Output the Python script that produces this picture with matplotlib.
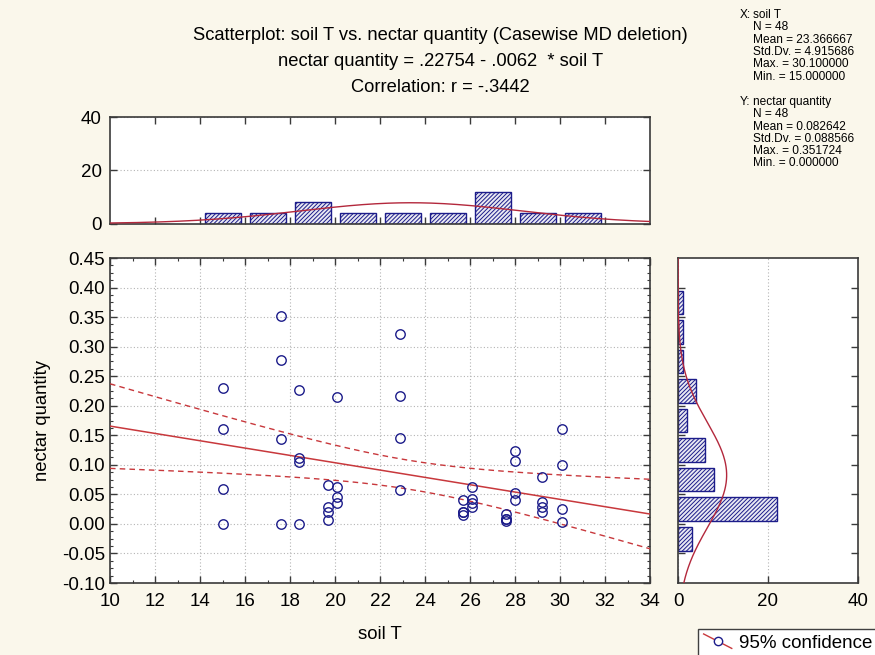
import numpy as np
import matplotlib
matplotlib.use("Agg")
import matplotlib.pyplot as plt
from matplotlib.lines import Line2D
from matplotlib.legend_handler import HandlerBase
from matplotlib.ticker import MultipleLocator, AutoMinorLocator, FormatStrFormatter

# ---- data -------------------------------------------------------------
soil_t = [15.0, 15.0, 15.0, 15.0,
          17.6, 17.6, 17.6, 17.6,
          18.4, 18.4, 18.4, 18.4,
          19.7, 19.7, 19.7, 19.7,
          20.1, 20.1, 20.1, 20.1,
          22.9, 22.9, 22.9, 22.9,
          25.7, 25.7, 25.7, 25.7,
          26.1, 26.1, 26.1, 26.1,
          27.6, 27.6, 27.6, 27.6,
          28.0, 28.0, 28.0, 28.0,
          29.2, 29.2, 29.2, 29.2,
          30.1, 30.1, 30.1, 30.1]

nectar = [0.230, 0.161, 0.059, 0.000,
          0.351724, 0.278, 0.143, 0.000,
          0.227, 0.112, 0.105, 0.000,
          0.066, 0.028, 0.020, 0.006,
          0.214, 0.062, 0.045, 0.036,
          0.321, 0.217, 0.145, 0.057,
          0.041, 0.021, 0.021, 0.015,
          0.063, 0.042, 0.035, 0.029,
          0.017, 0.009, 0.009, 0.005,
          0.124, 0.106, 0.052, 0.041,
          0.080, 0.037, 0.029, 0.020,
          0.160, 0.099, 0.025, 0.004]

# fitted line and summary statistics
intercept = 0.22754
slope = -0.0062
r_value = -0.3442
x_mean, x_sd = 23.366667, 4.915686
y_mean, y_sd = 0.082642, 0.088566
t_crit = 2.0129  # t(0.975, df = 46)

x_stats = ["N = 48", "Mean = 23.366667", "Std.Dv. = 4.915686",
           "Max. = 30.100000", "Min. = 15.000000"]
y_stats = ["N = 48", "Mean = 0.082642", "Std.Dv. = 0.088566",
           "Max. = 0.351724", "Min. = 0.000000"]

x_ticks = list(range(10, 35, 2))
y_ticks = [-0.10, -0.05, 0.00, 0.05, 0.10, 0.15, 0.20, 0.25, 0.30, 0.35, 0.40, 0.45]
x_bin_width = 2.0
y_bin_width = 0.05

# ---- styling ------------------------------------------------------------
BG = "#FAF7EB"
NAVY = "#1c1c8a"
RED = "#c8383c"
CURVE = "#b3283c"
GRID = "#b4b4b4"
SPINE = "#3a3a3a"
plt.rcParams["font.family"] = ["Liberation Sans", "DejaVu Sans"]
plt.rcParams["hatch.linewidth"] = 0.7
plt.rcParams["hatch.color"] = NAVY

W, H = 875, 655


def fx(px):
    return px / W


def fy(py):
    return 1 - py / H


fig = plt.figure(figsize=(W / 100, H / 100), dpi=100, facecolor=BG)

ax = fig.add_axes([fx(110), fy(583), (650 - 110) / W, (583 - 258) / H])
axt = fig.add_axes([fx(110), fy(223.5), (650 - 110) / W, (223.5 - 117) / H])
axr = fig.add_axes([fx(678), fy(583), (858 - 678) / W, (583 - 258) / H])

x = np.array(soil_t)
y = np.array(nectar)
n = len(x)

TICK_FS = 13.5


def style_axes(a):
    a.set_facecolor("white")
    for s in a.spines.values():
        s.set_color(SPINE)
        s.set_linewidth(1.2)
    a.tick_params(which="both", direction="in", top=True, right=True,
                  color=SPINE, labelsize=TICK_FS)
    a.tick_params(which="major", length=5, width=1)
    a.tick_params(which="minor", length=2.5, width=0.8)


# ---- main scatter ---------------------------------------------------------
style_axes(ax)
ax.set_xlim(10, 34)
ax.set_ylim(-0.10, 0.45)
ax.set_xticks(x_ticks)
ax.set_yticks(y_ticks)
ax.xaxis.set_minor_locator(MultipleLocator(1))
ax.yaxis.set_minor_locator(AutoMinorLocator(4))
ax.yaxis.set_major_formatter(FormatStrFormatter("%.2f"))
ax.grid(True, which="major", color=GRID, linestyle=(0, (1, 2)), linewidth=0.8)
ax.set_axisbelow(True)
ax.tick_params(axis="x", pad=7)

xs = np.linspace(10, 34, 300)
fit = intercept + slope * xs
resid = y - (intercept + slope * x)
s_err = np.sqrt(np.sum(resid ** 2) / (n - 2))
sxx = np.sum((x - x.mean()) ** 2)
half = t_crit * s_err * np.sqrt(1.0 / n + (xs - x.mean()) ** 2 / sxx)

ax.plot(xs, fit, color=RED, lw=1.1, zorder=3)
ax.plot(xs, fit + half, color=RED, lw=1.0, ls=(0, (4, 3)), zorder=3)
ax.plot(xs, fit - half, color=RED, lw=1.0, ls=(0, (4, 3)), zorder=3)
ax.plot(x, y, linestyle="none", marker="o", markersize=6.8, markerfacecolor="none",
        markeredgecolor=NAVY, markeredgewidth=1.0, zorder=4)

ax.set_xlabel("soil T", fontsize=13.3, labelpad=12)
ax.set_ylabel("nectar quantity", fontsize=13.3, labelpad=8)

# ---- top histogram (soil T) ----------------------------------------------
style_axes(axt)
x_edges = np.arange(10, 36, 2).astype(float)
x_idx = np.searchsorted(x_edges, x, side="left") - 1
x_counts = np.bincount(x_idx, minlength=len(x_edges) - 1)[:len(x_edges) - 1]
x_centers = (x_edges[:-1] + x_edges[1:]) / 2
keep = x_counts > 0
axt.bar(x_centers[keep], x_counts[keep], width=0.8 * x_bin_width,
        facecolor="#e8e8f2", edgecolor=NAVY, hatch="////////", linewidth=1.0, zorder=2)
axt.plot(xs, n * x_bin_width * np.exp(-0.5 * ((xs - x_mean) / x_sd) ** 2) / (x_sd * np.sqrt(2 * np.pi)),
         color=CURVE, lw=1.0, zorder=3)
axt.set_xlim(10, 34)
axt.set_ylim(0, 40)
axt.set_xticks(x_ticks[1:-1])
axt.set_yticks([0, 20, 40])
axt.tick_params(axis="x", labelbottom=False)
axt.tick_params(axis="y", pad=6)
axt.yaxis.grid(True, color=GRID, linestyle=(0, (1, 2)), linewidth=0.8)
axt.set_axisbelow(True)

# ---- right histogram (nectar quantity) -----------------------------------
style_axes(axr)
y_edges = np.arange(-2, 10) * y_bin_width
y_idx = np.searchsorted(y_edges, y, side="left") - 1
y_counts = np.bincount(y_idx, minlength=len(y_edges) - 1)[:len(y_edges) - 1]
y_centers = (y_edges[:-1] + y_edges[1:]) / 2
keep = y_counts > 0
axr.barh(y_centers[keep], y_counts[keep], height=0.8 * y_bin_width,
         facecolor="#e8e8f2", edgecolor=NAVY, hatch="////////", linewidth=1.0, zorder=2)
ys = np.linspace(-0.10, 0.45, 300)
axr.plot(n * y_bin_width * np.exp(-0.5 * ((ys - y_mean) / y_sd) ** 2) / (y_sd * np.sqrt(2 * np.pi)), ys,
         color=CURVE, lw=1.0, zorder=3)
axr.set_xlim(0, 40)
axr.set_ylim(-0.10, 0.45)
axr.set_xticks([0, 20, 40])
axr.set_yticks(y_ticks[1:-1])
axr.tick_params(axis="y", labelleft=False)
axr.tick_params(axis="x", pad=7, top=False)
axr.xaxis.grid(True, color=GRID, linestyle=(0, (1, 2)), linewidth=0.8)
axr.set_axisbelow(True)

# ---- titles and summary text ----------------------------------------------
TITLE_FS = 13.2
fig.text(0.503, fy(35), "Scatterplot: soil T vs. nectar quantity (Casewise MD deletion)",
         ha="center", va="center", fontsize=TITLE_FS)
fig.text(0.503, fy(61), "nectar quantity = .22754 - .0062  * soil T",
         ha="center", va="center", fontsize=TITLE_FS)
fig.text(0.503, fy(87), "Correlation: r = %s" % ("%.4f" % r_value).replace("0.", "."),
         ha="center", va="center", fontsize=TITLE_FS)

STAT_FS = 8.6
LINE = 12.3
fig.text(fx(740), fy(15), "X:", ha="left", va="center", fontsize=STAT_FS)
fig.text(fx(753), fy(15), "soil T", ha="left", va="center", fontsize=STAT_FS)
for i, s in enumerate(x_stats):
    fig.text(fx(753), fy(15 + LINE * (i + 1)), s, ha="left", va="center", fontsize=STAT_FS)
fig.text(fx(740), fy(102), "Y:", ha="left", va="center", fontsize=STAT_FS)
fig.text(fx(753), fy(102), "nectar quantity", ha="left", va="center", fontsize=STAT_FS)
for i, s in enumerate(y_stats):
    fig.text(fx(753), fy(102 + LINE * (i + 1)), s, ha="left", va="center", fontsize=STAT_FS)


# ---- legend ----------------------------------------------------------------
class DiagonalHandler(HandlerBase):
    def create_artists(self, legend, orig_handle, xdescent, ydescent,
                       width, height, fontsize, trans):
        x0, y0 = -xdescent, -ydescent
        line = Line2D([x0, x0 + width], [y0 + height * 1.05, y0 - height * 0.05],
                      color=RED, lw=1.0, transform=trans)
        mark = Line2D([x0 + width / 2], [y0 + height / 2], marker="o", markersize=6,
                      markerfacecolor="white", markeredgecolor=NAVY, markeredgewidth=1.0,
                      linestyle="none", transform=trans)
        return [line, mark]


proxy = Line2D([], [], color=RED)
leg = fig.legend(handles=[proxy], labels=["95% confidence"],
                 handler_map={proxy: DiagonalHandler()},
                 loc="upper left", bbox_to_anchor=(fx(698), fy(629)),
                 frameon=True, fancybox=False, edgecolor="#404040", facecolor="white",
                 framealpha=1.0, borderpad=0.3, borderaxespad=0.0,
                 handlelength=1.5, handletextpad=0.4, fontsize=13.5)
leg.get_frame().set_linewidth(1.0)

fig.savefig("out.png", dpi=100, facecolor=BG)
